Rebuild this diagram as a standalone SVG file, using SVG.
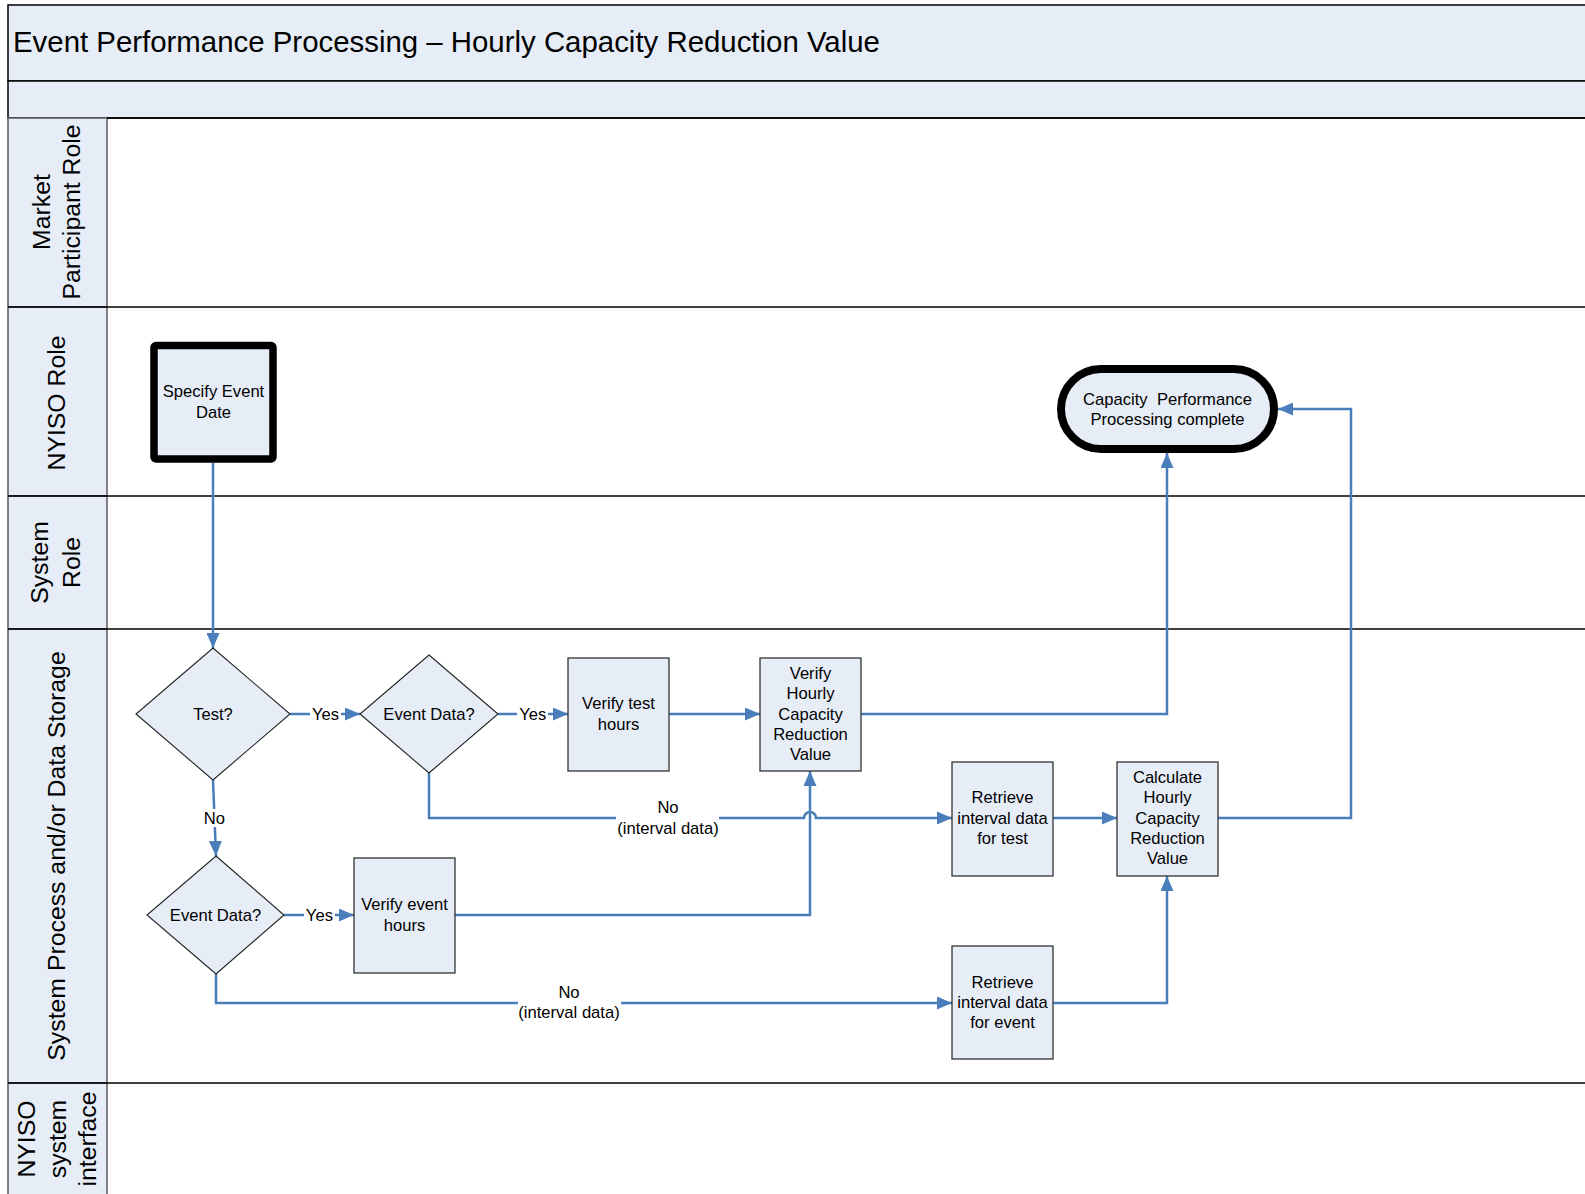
<svg xmlns="http://www.w3.org/2000/svg" width="1585" height="1194" viewBox="0 0 1585 1194">
<defs>
<style>
text{font-family:"Liberation Sans",Arial,sans-serif;fill:#000}
.title{font-size:29.4px}
.lane{font-size:24.8px;text-anchor:middle}
.nt{font-size:16.6px;text-anchor:middle}
.lbl{font-size:16.6px;text-anchor:middle}
.band{fill:#E6EDF7;stroke:#000;stroke-width:1.5}
.lh{fill:#E6EDF7;stroke:#5a5a5a;stroke-width:1.5}
.sep{stroke:#000;stroke-width:1.5}
.box{fill:#E6EDF7;stroke:#333;stroke-width:1.3}
.dia{fill:#E6EDF7;stroke:#222;stroke-width:1.1}
.con{fill:none;stroke:#4A7EBB;stroke-width:2.5}
.bg{fill:#fff}
</style>
<marker id="arr" markerUnits="userSpaceOnUse" markerWidth="15" markerHeight="13" refX="15" refY="6.5" orient="auto">
<path d="M0,0 L15,6.5 L0,13 z" fill="#4A7EBB"/>
</marker>
</defs>
<rect width="1585" height="1194" fill="#fff"/>
<g id="header">
<rect class="band" x="8" y="5" width="1590" height="76"/>
<rect class="band" x="8" y="81" width="1590" height="37"/>
<text class="title" x="13" y="52">Event Performance Processing – Hourly Capacity Reduction Value</text>
</g>
<g id="lanes">
<rect class="lh" x="8" y="118" width="99" height="189"/>
<rect class="lh" x="8" y="307" width="99" height="189"/>
<rect class="lh" x="8" y="496" width="99" height="133"/>
<rect class="lh" x="8" y="629" width="99" height="454"/>
<rect class="lh" x="8" y="1083" width="99" height="120"/>
<line class="sep" x1="107" y1="118" x2="1585" y2="118"/>
<line class="sep" x1="8" y1="307" x2="1585" y2="307"/>
<line class="sep" x1="8" y1="496" x2="1585" y2="496"/>
<line class="sep" x1="8" y1="629" x2="1585" y2="629"/>
<line class="sep" x1="8" y1="1083" x2="1585" y2="1083"/>
<text class="lane" transform="translate(50,212) rotate(-90)">Market</text>
<text class="lane" transform="translate(79.5,212) rotate(-90)">Participant Role</text>
<text class="lane" transform="translate(65,403) rotate(-90)">NYISO Role</text>
<text class="lane" transform="translate(48,562.5) rotate(-90)">System</text>
<text class="lane" transform="translate(79.5,562.5) rotate(-90)">Role</text>
<text class="lane" transform="translate(64.5,856) rotate(-90)">System Process and/or Data Storage</text>
<text class="lane" transform="translate(35,1139) rotate(-90)">NYISO</text>
<text class="lane" transform="translate(65.5,1139) rotate(-90)">system</text>
<text class="lane" transform="translate(96,1139) rotate(-90)">interface</text>
</g>
<g id="connectors">
<path class="con" d="M213,463 L213,648" marker-end="url(#arr)"/>
<path class="con" d="M290,714 L360,714" marker-end="url(#arr)"/>
<path class="con" d="M498,714 L568,714" marker-end="url(#arr)"/>
<path class="con" d="M669,714 L760,714" marker-end="url(#arr)"/>
<path class="con" d="M861,714 L1167,714 L1167,453" marker-end="url(#arr)"/>
<path class="con" d="M213,780 L216,856" marker-end="url(#arr)"/>
<path class="con" d="M284,915 L354,915" marker-end="url(#arr)"/>
<path class="con" d="M455,915 L810,915 L810,771" marker-end="url(#arr)"/>
<path class="con" d="M429,773 L429,818 L804,818 A6,6 0 0 1 816,818 L952,818" marker-end="url(#arr)"/>
<path class="con" d="M1053,818 L1117,818" marker-end="url(#arr)"/>
<path class="con" d="M1218,818 L1351,818 L1351,409 L1278,409" marker-end="url(#arr)"/>
<path class="con" d="M216,974 L216,1003 L952,1003" marker-end="url(#arr)"/>
<path class="con" d="M1053,1003 L1167,1003 L1167,876" marker-end="url(#arr)"/>
<rect class="bg" x="310" y="705" width="31" height="18"/>
<text class="lbl" x="325.5" y="720">Yes</text>
<rect class="bg" x="517" y="705" width="31" height="18"/>
<text class="lbl" x="532.7" y="720">Yes</text>
<rect class="bg" x="304" y="906" width="31" height="18"/>
<text class="lbl" x="319.4" y="921">Yes</text>
<rect class="bg" x="202" y="809" width="25" height="18"/>
<text class="lbl" x="214.3" y="824">No</text>
<rect class="bg" x="616" y="797" width="103" height="42"/>
<text class="lbl" x="668" y="812.6">No</text>
<text class="lbl" x="668" y="834">(interval data)</text>
<rect class="bg" x="518" y="982" width="103" height="42"/>
<text class="lbl" x="569" y="997.6">No</text>
<text class="lbl" x="569" y="1018">(interval data)</text>
</g>
<g id="n-specify">
<rect x="154" y="345.5" width="119" height="113.5" rx="2" fill="#E6EDF7" stroke="#000" stroke-width="7.5"/>
<text class="nt" x="213.5" y="397">Specify Event</text>
<text class="nt" x="213.5" y="418">Date</text>
</g>
<g id="n-complete">
<rect x="1061" y="369" width="213" height="80" rx="40" fill="#E6EDF7" stroke="#000" stroke-width="8"/>
<text class="nt" x="1167.5" y="404.5" xml:space="preserve">Capacity  Performance</text>
<text class="nt" x="1167.5" y="425">Processing complete</text>
</g>
<g id="n-test">
<polygon class="dia" points="213,648 290,714 213,780 136,714"/>
<text class="nt" x="213" y="720">Test?</text>
</g>
<g id="n-eventdata1">
<polygon class="dia" points="429,655 498,714 429,773 360,714"/>
<text class="nt" x="429" y="720">Event Data?</text>
</g>
<g id="n-eventdata2">
<polygon class="dia" points="216,856 284,915 216,974 147,915"/>
<text class="nt" x="215.5" y="921">Event Data?</text>
</g>
<g id="n-verifytest">
<rect class="box" x="568" y="658" width="101" height="113"/>
<text class="nt" x="618.5" y="709">Verify test</text>
<text class="nt" x="618.5" y="730">hours</text>
</g>
<g id="n-verifyhourly">
<rect class="box" x="760" y="658" width="101" height="113"/>
<text class="nt" x="810.5" y="678.5">Verify</text>
<text class="nt" x="810.5" y="699">Hourly</text>
<text class="nt" x="810.5" y="719.5">Capacity</text>
<text class="nt" x="810.5" y="740">Reduction</text>
<text class="nt" x="810.5" y="760">Value</text>
</g>
<g id="n-retrievetest">
<rect class="box" x="952" y="762" width="101" height="114"/>
<text class="nt" x="1002.5" y="803">Retrieve</text>
<text class="nt" x="1002.5" y="823.5">interval data</text>
<text class="nt" x="1002.5" y="844">for test</text>
</g>
<g id="n-calculate">
<rect class="box" x="1117" y="762" width="101" height="114"/>
<text class="nt" x="1167.5" y="782.5">Calculate</text>
<text class="nt" x="1167.5" y="803">Hourly</text>
<text class="nt" x="1167.5" y="823.5">Capacity</text>
<text class="nt" x="1167.5" y="844">Reduction</text>
<text class="nt" x="1167.5" y="864">Value</text>
</g>
<g id="n-verifyevent">
<rect class="box" x="354" y="858" width="101" height="115"/>
<text class="nt" x="404.5" y="909.5">Verify event</text>
<text class="nt" x="404.5" y="931">hours</text>
</g>
<g id="n-retrieveevent">
<rect class="box" x="952" y="946" width="101" height="113"/>
<text class="nt" x="1002.5" y="987.5">Retrieve</text>
<text class="nt" x="1002.5" y="1008">interval data</text>
<text class="nt" x="1002.5" y="1028">for event</text>
</g>
</svg>
